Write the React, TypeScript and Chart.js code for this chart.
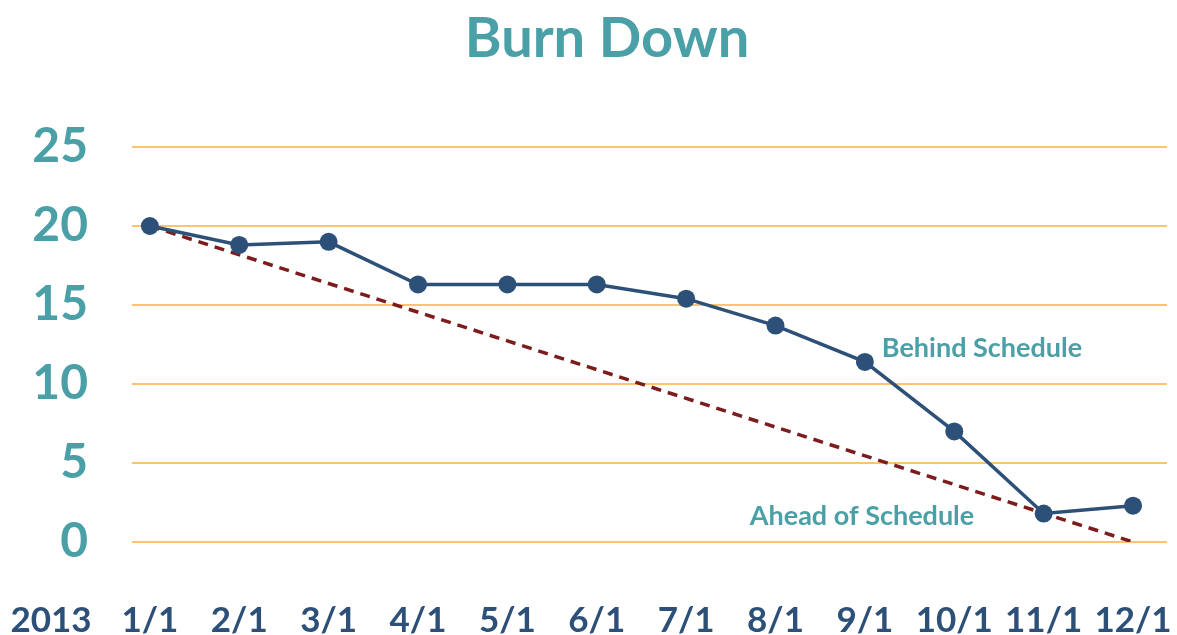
import React, { useEffect, useRef } from "react";
import { Chart, registerables } from "chart.js";

Chart.register(...registerables);

const categories = ["1/1", "2/1", "3/1", "4/1", "5/1", "6/1", "7/1", "8/1", "9/1", "10/1", "11/1", "12/1"];
const actualRemaining = [20, 18.8, 19.0, 16.3, 16.3, 16.3, 15.4, 13.7, 11.4, 7.0, 1.8, 2.3];
const idealRemaining = [20, null, null, null, null, null, null, null, null, null, null, 0];
const yTicks = [0, 5, 10, 15, 20, 25];
const yearLabel = "2013";
const titleText = "Burn Down";
const behindLabel = "Behind Schedule";
const aheadLabel = "Ahead of Schedule";

const TEAL = "#4aa0a6";
const NAVY = "#2d5078";
const DARKRED = "#7d1c1c";
const ORANGE = "#fdc46f";
const FONT = "Lato, 'Open Sans', sans-serif";

const textPlugin = {
  id: "textPlugin",
  afterDraw(chart: any) {
    const ctx = chart.ctx;
    ctx.save();
    ctx.textAlign = "center";
    ctx.textBaseline = "alphabetic";
    ctx.fillStyle = TEAL;
    ctx.font = `bold 56px ${FONT}`;
    ctx.fillText(titleText, 607, 57);
    ctx.font = `bold 27px ${FONT}`;
    ctx.fillText(behindLabel, 982, 357);
    ctx.fillText(aheadLabel, 862, 525);
    ctx.fillStyle = NAVY;
    ctx.font = `bold 35px ${FONT}`;
    ctx.fillText(yearLabel, 51, 632);
    ctx.restore();
  },
};

export default function App() {
  const ref = useRef<HTMLCanvasElement>(null);
  useEffect(() => {
    document.body.style.margin = "0";
    const canvas = ref.current!;
    const chart = new Chart(canvas, {
      type: "line",
      data: {
        datasets: [
          {
            label: "Ideal",
            data: idealRemaining.map((v, i) => ({ x: i, y: v })) as any,
            borderColor: DARKRED,
            borderWidth: 3.5,
            borderDash: [10, 7],
            pointRadius: 0,
            spanGaps: true,
            fill: false,
            order: 2,
          },
          {
            label: "Actual",
            data: actualRemaining.map((v, i) => ({ x: i, y: v })) as any,
            borderColor: NAVY,
            backgroundColor: NAVY,
            borderWidth: 3.5,
            pointRadius: 9,
            pointBackgroundColor: NAVY,
            pointBorderColor: NAVY,
            pointBorderWidth: 0,
            fill: false,
            order: 1,
          },
        ],
      },
      options: {
        responsive: false,
        animation: false,
        layout: { padding: { top: 147, right: 10, left: 0, bottom: 0 } },
        plugins: {
          legend: { display: false },
          title: { display: false },
          tooltip: { enabled: false },
        },
        scales: {
          x: {
            type: "linear",
            min: -0.2,
            max: 11.38,
            grid: { display: false, drawTicks: false },
            border: { display: false },
            afterBuildTicks: (axis: any) => {
              axis.ticks = categories.map((_, i) => ({ value: i }));
            },
            afterFit: (axis: any) => {
              axis.height = 93;
              axis.paddingLeft = 0;
              axis.paddingRight = 0;
            },
            ticks: {
              autoSkip: false,
              maxRotation: 0,
              padding: 58,
              color: NAVY,
              font: { family: FONT, size: 35, weight: "bold" },
              callback: (v: any) => categories[v as number] ?? "",
            },
          },
          y: {
            min: 0,
            max: 25,
            grid: { color: ORANGE, lineWidth: 2, drawTicks: false },
            border: { display: false },
            afterBuildTicks: (axis: any) => {
              axis.ticks = yTicks.map((v) => ({ value: v }));
            },
            afterFit: (axis: any) => {
              axis.width = 132;
              axis.paddingTop = 0;
              axis.paddingBottom = 0;
            },
            ticks: {
              padding: 44,
              color: TEAL,
              font: { family: FONT, size: 48, weight: "bold" },
            },
          },
        },
      },
      plugins: [textPlugin],
    });
    return () => chart.destroy();
  }, []);
  return (
    <div style={{ width: 1177, height: 635 }}>
      <canvas ref={ref} width={1177} height={635} />
    </div>
  );
}
